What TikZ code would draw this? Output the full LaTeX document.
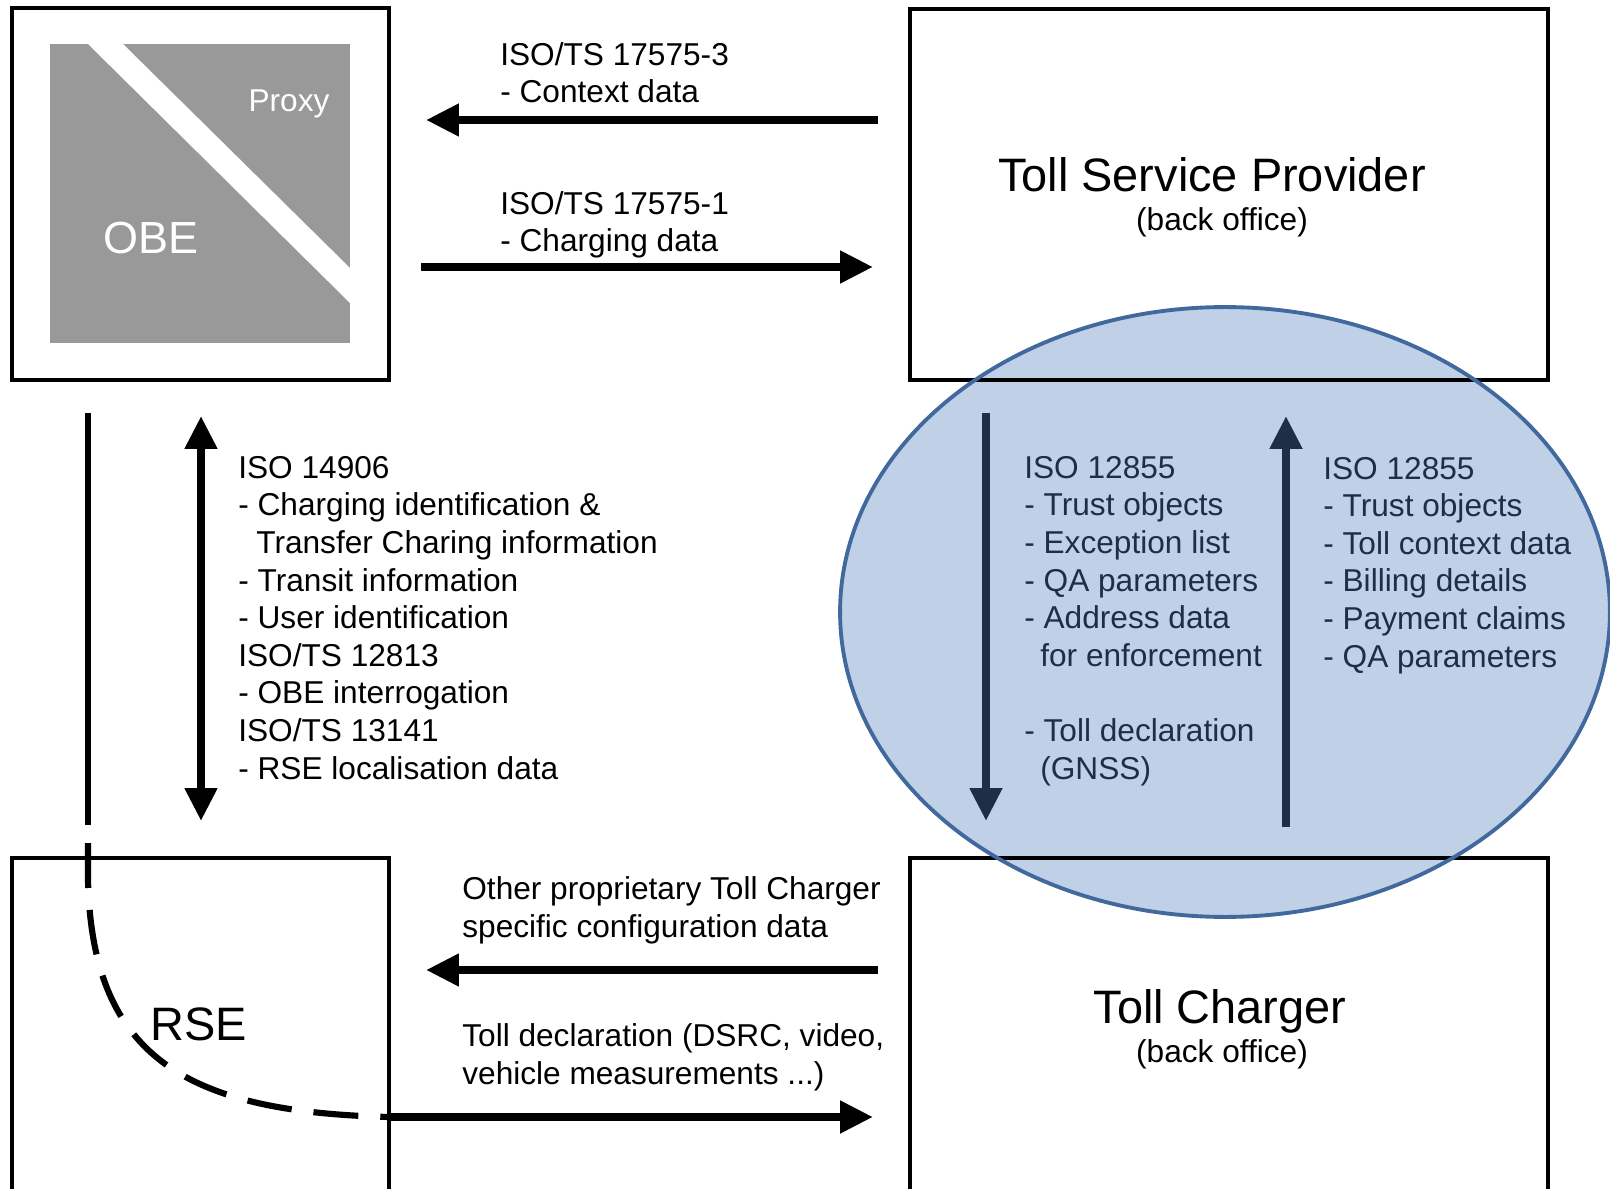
\documentclass[tikz,border=0pt]{standalone}
\usepackage{fontspec}
\setmainfont{Liberation Sans}
\usetikzlibrary{arrows.meta}

\definecolor{ovalfill}{RGB}{192,209,231}
\definecolor{ovaledge}{RGB}{65,105,158}
\definecolor{navy}{RGB}{31,45,70}
\definecolor{obegray}{RGB}{153,153,153}

\tikzset{
  box/.style={draw, line width=2.4pt, inner sep=0pt},
  flow/.style={line width=4.5pt},
  link/.style={line width=3.5pt},
  txt/.style={font=\fontsize{18}{21.4}\selectfont, inner sep=0pt, align=left, anchor=base west},
  head/.style={font=\fontsize{26.7}{32}\selectfont, inner sep=0pt, anchor=base},
  sub/.style={font=\fontsize{18}{21.4}\selectfont, inner sep=0pt, anchor=base},
}

\begin{document}
\begin{tikzpicture}[x=0.02cm, y=-0.02cm, >={Triangle[length=6.6mm, width=6.2mm]}]

	\clip (0,0) rectangle (1610,1189);

	% oval behind the two back offices
	\fill[ovalfill] (1225,612) ellipse [x radius=7.7cm, y radius=6.1cm];

	% boxes
	\node (obe) [box, minimum width=7.54cm, minimum height=7.44cm] at (200.5,194) {};
	\node (rse) [box, minimum width=7.54cm, minimum height=8.84cm] at (200.5,1079) {};
	\node (tsp) [box, minimum width=12.76cm, minimum height=7.42cm] at (1229,194.5) {};
	\node (tc) [box, minimum width=12.76cm, minimum height=8.84cm] at (1229,1079) {};

	\draw[ovaledge, line width=2.2pt] (1225,612) ellipse [x radius=7.7cm, y radius=6.1cm];

	% OBE / proxy square
	\fill[obegray] (50,44) rectangle (350,343);
	\fill[white] (88,44) -- (123,44) -- (350,268) -- (350,303) -- cycle;
	\node (proxy) [sub, text=white] at (289,112) {Proxy};
	\node (obetxt) [head, text=white, font=\fontsize{25.6}{30}\selectfont] at (151,254) {OBE};
	\node (rsetxt) [head] at (199,1040) {RSE};

	\node (tsptxt) [head] at (1212,192) {Toll Service Provider};
	\node (tspsub) [sub] at (1222,231) {(back office)};
	\node (tctxt) [head] at (1220,1023) {Toll Charger};
	\node (tcsub) [sub] at (1222,1062) {(back office)};

	% labels (placed at the baseline of their last line)
	\node (ctxlbl) [txt] at (500,103) {ISO/TS 17575-3\\- Context data};
	\node (chglbl) [txt] at (500,252) {ISO/TS 17575-1\\- Charging data};
	\node (dsrclbl) [txt] at (238,779) {ISO 14906\\- Charging identification \&\\\hspace{0.36cm}Transfer Charing information\\- Transit information\\- User identification\\ISO/TS 12813\\- OBE interrogation\\ISO/TS 13141\\- RSE localisation data};
	\node (downlbl) [txt, text=navy] at (1024,779) {ISO 12855\\- Trust objects\\- Exception list\\- QA parameters\\- Address data\\\hspace{0.32cm}for enforcement\\[21.4pt]- Toll declaration\\\hspace{0.32cm}(GNSS)};
	\node (uplbl) [txt, text=navy] at (1323,667) {ISO 12855\\- Trust objects\\- Toll context data\\- Billing details\\- Payment claims\\- QA parameters};
	\node (cfglbl) [txt] at (462,937) {Other proprietary Toll Charger\\specific configuration data};
	\node (decllbl) [txt] at (462,1084) {Toll declaration (DSRC, video,\\vehicle measurements ...)};

	% arrow ends
	\coordinate (ctx-s) at (878,120);
	\coordinate (ctx-e) at (426,120);
	\coordinate (chg-s) at (421,267);
	\coordinate (chg-e) at (873,267);
	\coordinate (air-t) at (201,416);
	\coordinate (air-b) at (201,821);
	\coordinate (cfg-s) at (878,970);
	\coordinate (cfg-e) at (426,970);
	\coordinate (decl-s) at (389,1117);
	\coordinate (decl-e) at (873,1117);
	\coordinate (down-s) at (986,413);
	\coordinate (down-e) at (986,821);
	\coordinate (up-s) at (1286,827);
	\coordinate (up-e) at (1286,416);
	\coordinate (lnk-t) at (88,413);
	\coordinate (lnk-m) at (88,825);
	\coordinate (lnk-d) at (88,843);

	\draw[flow, ->] (ctx-s) -- (ctx-e);
	\draw[flow, ->] (chg-s) -- (chg-e);
	\draw[flow, <->] (air-t) -- (air-b);
	\draw[flow, ->] (cfg-s) -- (cfg-e);
	\draw[flow, ->] (decl-s) -- (decl-e);
	\draw[flow, navy, ->] (down-s) -- (down-e);
	\draw[flow, navy, ->] (up-s) -- (up-e);

	% link from OBE to RSE
	\draw[link] (lnk-t) -- (lnk-m);
	\draw[link, dash pattern=on 0.9cm off 0.44cm] (lnk-d) -- (88,880) .. controls (92,1060) and (190,1112) .. (decl-s);

\end{tikzpicture}
\end{document}
